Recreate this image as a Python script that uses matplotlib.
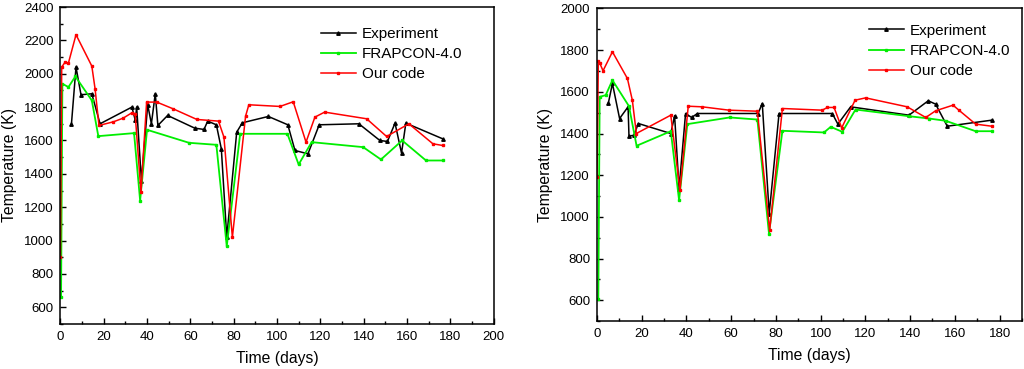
import numpy as np
import matplotlib.pyplot as plt
from matplotlib.ticker import MultipleLocator

plt.rcParams['font.family'] = ['Liberation Sans', 'DejaVu Sans']

# left panel
exp_a_day = [5.1, 7.2, 9.5, 14.5, 18.3, 33.0, 34.6, 35.2, 37.4, 40.3, 42.0, 43.8, 45.0,
             49.5, 62.0, 66.3, 68.0, 72.0, 74.3, 76.8, 81.4, 84.0, 96.0, 105.0, 108.3,
             114.3, 119.5, 137.8, 147.5, 151.0, 154.5, 157.5, 159.5, 176.5]
exp_a_T = [1700, 2040, 1874, 1880, 1700, 1800, 1720, 1800, 1360, 1814, 1700, 1880, 1690,
           1750, 1674, 1666, 1716, 1694, 1550, 1020, 1650, 1706, 1744, 1694, 1540,
           1520, 1694, 1700, 1600, 1594, 1704, 1524, 1704, 1610]

frap_a_day = [0.3, 0.9, 3.7, 6.9, 14.5, 17.5, 34.0, 36.8, 40.0, 59.4, 72.0, 76.8, 83.0,
              104.8, 110.0, 116.0, 139.8, 148.0, 157.8, 168.8, 176.5]
frap_a_T = [660, 1940, 1920, 1984, 1840, 1626, 1644, 1240, 1664, 1586, 1574, 966, 1640,
            1640, 1456, 1590, 1560, 1486, 1600, 1480, 1480]

our_a_day = [0.0, 0.6, 2.2, 3.7, 7.2, 14.5, 16.0, 17.8, 24.5, 29.0, 33.0, 34.5, 37.2,
             39.8, 44.5, 52.0, 63.0, 73.0, 75.5, 79.4, 85.5, 87.0, 101.4, 107.5,
             113.4, 117.5, 122.0, 141.4, 150.6, 160.9, 172.0, 176.5]
our_a_T = [900, 2040, 2070, 2064, 2234, 2046, 1910, 1690, 1712, 1734, 1766, 1760, 1290,
           1830, 1830, 1790, 1726, 1716, 1620, 1020, 1746, 1814, 1804, 1832,
           1590, 1740, 1770, 1730, 1624, 1700, 1580, 1570]

# right panel
exp_b_day = [5.1, 6.9, 10.1, 13.9, 14.3, 16.5, 18.5, 33.0, 34.7, 36.7, 39.6, 42.3, 44.9,
             72.0, 73.9, 77.0, 81.4, 105.2, 107.7, 113.4, 139.5, 148.1, 151.4, 156.6, 176.5]
exp_b_T = [1547, 1640, 1472, 1528, 1387, 1392, 1448, 1400, 1485, 1136, 1496, 1477, 1496,
           1496, 1544, 1016, 1496, 1496, 1445, 1528, 1488, 1557, 1541, 1435, 1464]

frap_b_day = [0.6, 1.2, 3.9, 6.9, 14.3, 17.7, 33.0, 36.7, 40.4, 59.3, 71.7, 76.9, 82.9,
              101.5, 104.5, 109.7, 115.6, 139.5, 148.4, 155.9, 169.3, 176.7]
frap_b_T = [608, 1576, 1584, 1656, 1531, 1341, 1411, 1080, 1445, 1477, 1467, 920, 1413,
            1405, 1432, 1408, 1515, 1483, 1472, 1461, 1411, 1411]

our_b_day = [0.0, 0.6, 1.3, 2.7, 6.9, 13.6, 15.8, 17.6, 33.0, 37.1, 40.8, 47.1, 59.0,
             71.7, 77.2, 82.9, 100.7, 103.0, 106.0, 109.4, 115.4, 120.1, 138.7,
             147.0, 151.4, 159.2, 161.8, 169.3, 176.5]
our_b_T = [1192, 1747, 1736, 1701, 1792, 1664, 1560, 1400, 1488, 1128, 1531, 1528, 1512,
           1507, 936, 1520, 1512, 1525, 1525, 1427, 1560, 1571, 1528,
           1477, 1509, 1536, 1512, 1445, 1435]

fig = plt.figure(figsize=(10.24, 3.69), dpi=100)
ax1 = fig.add_axes([0.059, 0.122, 0.423, 0.859])
ax2 = fig.add_axes([0.583, 0.130, 0.415, 0.847])


def draw(ax, ed, et, fd, ft, od, ot, xmax, ymax, xmajor_max, leg_anchor):
    ax.plot(ed, et, color='black', lw=1.1, marker='^', ms=2.5, label='Experiment')
    ax.plot(fd, ft, color='#00ee00', lw=1.3, marker='s', ms=1.8, label='FRAPCON-4.0')
    ax.plot(od, ot, color='red', lw=1.1, marker='s', ms=1.8, label='Our code')
    ax.set_xlim(0, xmax)
    ax.set_ylim(500, ymax)
    ax.set_xticks(np.arange(0, xmajor_max + 1, 20))
    ax.xaxis.set_minor_locator(MultipleLocator(10))
    ax.set_yticks(np.arange(600, ymax + 1, 200))
    ax.yaxis.set_minor_locator(MultipleLocator(100))
    ax.tick_params(which='major', direction='in', length=4, width=1, labelsize=9.5, pad=5)
    ax.tick_params(which='minor', direction='in', length=2.5, width=1)
    for s in ax.spines.values():
        s.set_linewidth(1.1)
    ax.set_xlabel('Time (days)', fontsize=11.3, labelpad=6)
    ax.set_ylabel('Temperature (K)', fontsize=11.3, labelpad=5)
    ax.legend(loc='upper right', frameon=False, fontsize=11, handlelength=2.3,
              numpoints=1, labelspacing=0.4, handletextpad=0.4,
              bbox_to_anchor=leg_anchor)


draw(ax1, exp_a_day, exp_a_T, frap_a_day, frap_a_T, our_a_day, our_a_T,
     200, 2400, 200, (0.96, 0.98))
draw(ax2, exp_b_day, exp_b_T, frap_b_day, frap_b_T, our_b_day, our_b_T,
     190, 2000, 180, (1.005, 0.995))

fig.savefig('out.png', dpi=100)
